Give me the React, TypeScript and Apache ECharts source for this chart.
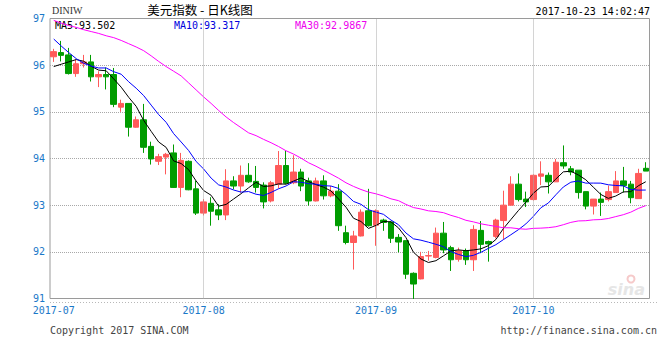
import React, { useEffect, useRef } from "react";
import * as echarts from "echarts";

// trading days shown (July 4 holiday absent)
const julDays = [3, 5, 6, 7, 10, 11, 12, 13, 14, 17, 18, 19, 20, 21, 24, 25, 26, 27, 28, 31];
const augDays = [1, 2, 3, 4, 7, 8, 9, 10, 11, 14, 15, 16, 17, 18, 21, 22, 23, 24, 25, 28, 29, 30, 31];
const sepDays = [1, 4, 5, 6, 7, 8, 11, 12, 13, 14, 15, 18, 19, 20, 21, 22, 25, 26, 27, 28, 29];
const octDays = [2, 3, 4, 5, 6, 9, 10, 11, 12, 13, 16, 17, 18, 19, 20, 23];

const opens = [
  96.18, 96.27, 96.22, 95.82, 96.03, 96.07, 95.75, 95.8, 95.8, 95.1,
  95.18, 94.67, 94.83, 94.26, 93.94, 94.03, 94.12, 93.38, 93.94, 93.35,
  92.83, 93.04, 92.9, 92.79, 93.52, 93.41, 93.64, 93.51, 93.43, 93.09,
  93.45, 93.85, 93.48, 93.71, 93.52, 93.09, 93.52, 93.2, 93.3, 92.41,
  92.2, 92.34, 92.88, 92.57, 92.68, 92.64, 92.31, 92.24, 91.54, 91.42,
  91.91, 91.88, 92.4, 92.09, 91.84, 92.02, 91.83, 92.46, 92.22, 92.33,
  92.67, 93.0, 93.45, 93.13, 93.12, 93.62, 93.64, 93.5, 93.91, 93.78,
  93.75, 93.29, 92.98, 93.13, 93.12, 93.27, 93.52, 93.45, 93.14, 93.79,
];
const closes = [
  96.29, 96.21, 95.82, 96.03, 96.07, 95.75, 95.8, 95.75, 95.16, 95.18,
  94.67, 94.83, 94.24, 93.99, 94.04, 94.09, 93.38, 93.96, 93.33, 92.83,
  93.07, 92.87, 92.79, 93.52, 93.41, 93.64, 93.5, 93.38, 93.07, 93.48,
  93.85, 93.47, 93.71, 93.41, 93.09, 93.52, 93.2, 93.3, 92.56, 92.2,
  92.34, 92.85, 92.56, 92.88, 92.63, 92.29, 92.21, 91.52, 91.31, 91.9,
  91.92, 92.4, 92.04, 91.83, 92.02, 91.83, 92.48, 92.16, 92.17, 92.68,
  93.0, 93.45, 93.12, 93.07, 93.64, 93.67, 93.5, 93.92, 93.84, 93.71,
  93.27, 92.98, 93.13, 93.06, 93.29, 93.52, 93.42, 93.16, 93.68, 93.73,
];
const lows = [
  96.07, 96.08, 95.8, 95.75, 95.95, 95.65, 95.53, 95.48, 95.1, 95.0,
  94.47, 94.66, 94.12, 93.87, 93.86, 93.66, 93.37, 93.17, 93.32, 92.79,
  92.78, 92.56, 92.68, 92.68, 93.34, 93.27, 93.48, 93.27, 92.93, 93.06,
  93.36, 93.45, 93.45, 93.3, 92.99, 93.08, 93.12, 93.17, 92.45, 92.16,
  91.62, 92.33, 92.54, 92.13, 92.45, 92.19, 91.99, 91.42, 90.99, 91.41,
  91.81, 91.86, 91.97, 91.59, 91.79, 91.72, 91.59, 91.97, 91.79, 92.29,
  92.27, 93.0, 93.08, 92.96, 93.1, 93.43, 93.25, 93.5, 93.78, 93.64,
  93.14, 92.91, 92.8, 92.77, 93.08, 93.27, 93.27, 93.04, 93.14, 93.73,
];
const highs = [
  96.35, 96.52, 96.37, 96.12, 96.22, 96.22, 95.87, 95.95, 95.94, 95.26,
  95.18, 94.9, 95.17, 94.36, 94.1, 94.12, 94.3, 94.12, 93.96, 93.52,
  93.13, 93.17, 93.02, 93.77, 93.62, 93.85, 93.9, 93.84, 93.49, 93.52,
  94.16, 94.16, 94.07, 93.78, 93.59, 93.59, 93.64, 93.41, 93.45, 92.56,
  92.45, 92.91, 93.35, 92.91, 92.71, 92.66, 92.38, 92.24, 91.56, 92.0,
  92.02, 92.52, 92.64, 92.13, 92.09, 92.07, 92.57, 92.66, 92.24, 92.71,
  93.31, 93.62, 93.68, 93.29, 93.66, 93.94, 93.7, 93.99, 94.28, 93.84,
  93.75, 93.29, 93.13, 93.27, 93.42, 93.73, 93.82, 93.52, 93.78, 93.92,
];

// moving-average values at the left edge (they depend on earlier sessions)
const ma5Head = [95.97, 96.02, 96.07, 96.12];
const ma10Head = [96.56, 96.41, 96.27, 96.14, 96.04, 95.98, 95.94, 95.94, 95.86];
const ma30Head = [
  96.96, 96.9, 96.85, 96.81, 96.76, 96.72, 96.68, 96.63, 96.59, 96.53,
  96.46, 96.39, 96.31, 96.2, 96.08, 95.97, 95.87, 95.77, 95.62, 95.47,
  95.32, 95.18, 95.03, 94.89, 94.77, 94.66, 94.55, 94.49, 94.41,
];
const maLegend = ["MA5:93.502", "MA10:93.317", "MA30:92.9867"];
const yTicks = [91, 92, 93, 94, 95, 96, 97];

const pad = (n: number) => (n < 10 ? "0" + n : "" + n);
const dates: string[] = [
  ...julDays.map((d) => "2017-07-" + pad(d)),
  ...augDays.map((d) => "2017-08-" + pad(d)),
  ...sepDays.map((d) => "2017-09-" + pad(d)),
  ...octDays.map((d) => "2017-10-" + pad(d)),
];
const monthStarts = dates
  .map((d, i) => (i === 0 || d.slice(0, 7) !== dates[i - 1].slice(0, 7) ? i : -1))
  .filter((i) => i >= 0);

const candles = dates.map((_, i) => [opens[i], closes[i], lows[i], highs[i]]);

function movingAverage(n: number, head: number[]) {
  return closes.map((_, i) => {
    if (i < n - 1) return head[i];
    let s = 0;
    for (let k = i - n + 1; k <= i; k++) s += closes[k];
    return +(s / n).toFixed(3);
  });
}

const MONO = "'DejaVu Sans Mono', monospace";
const BLUE_TXT = "#1a78c8";

export default function App() {
  const ref = useRef<HTMLDivElement>(null);
  useEffect(() => {
    if (!ref.current) return;
    const chart = echarts.init(ref.current, undefined, { renderer: "svg" });
    const option: any = {
      animation: false,
      grid: {
        left: 50,
        right: 10.5,
        top: 18.5,
        bottom: 61.5,
        show: true,
        borderColor: "#9a9a9a",
        borderWidth: 1,
        backgroundColor: "transparent",
      },
      xAxis: {
        type: "category",
        data: dates,
        boundaryGap: true,
        axisLine: { show: false },
        axisTick: { show: false },
        splitLine: { show: false },
        axisLabel: {
          interval: (i: number) => monthStarts.includes(i),
          formatter: (v: string) => v.slice(0, 7),
          color: BLUE_TXT,
          fontFamily: MONO,
          fontSize: 10,
          margin: 7,
        },
      },
      yAxis: {
        type: "value",
        min: yTicks[0],
        max: yTicks[yTicks.length - 1],
        interval: 1,
        axisLine: { show: false },
        axisTick: { show: false },
        axisLabel: { color: BLUE_TXT, fontFamily: MONO, fontSize: 10, margin: 5 },
        splitLine: {
          show: true,
          showMinLine: false,
          showMaxLine: false,
          lineStyle: { type: "dotted", color: "#a8a8a8", width: 1 },
        },
      },
      series: [
        {
          type: "candlestick",
          data: candles,
          barWidth: 6,
          itemStyle: {
            color: "#ff5a5a",
            color0: "#009c00",
            borderColor: "#ff5a5a",
            borderColor0: "#009c00",
            borderWidth: 1,
          },
          markLine: {
            silent: true,
            symbol: ["none", "none"],
            label: { show: false },
            lineStyle: { type: "dotted", color: "#a8a8a8", width: 1 },
            data: monthStarts.slice(1).map((i) => ({ xAxis: dates[i] })),
          },
        },
        {
          type: "line",
          data: movingAverage(5, ma5Head),
          showSymbol: false,
          lineStyle: { color: "#000000", width: 1 },
          z: 3,
        },
        {
          type: "line",
          data: movingAverage(10, ma10Head),
          showSymbol: false,
          lineStyle: { color: "#0000ff", width: 1 },
          z: 3,
        },
        {
          type: "line",
          data: movingAverage(30, ma30Head),
          showSymbol: false,
          lineStyle: { color: "#ff00ff", width: 1 },
          z: 3,
        },
      ],
      graphic: [
        {
          type: "text",
          x: 52,
          y: 10,
          style: { text: "DINIW", fill: "#333", font: "10px 'Liberation Serif', serif", textVerticalAlign: "middle" },
        },
        {
          type: "text",
          x: 200,
          y: 9.5,
          style: {
            text: "美元指数 - 日K线图",
            fill: "#000",
            font: "12.5px 'Noto Sans CJK SC', sans-serif",
            textAlign: "center",
            textVerticalAlign: "middle",
          },
        },
        {
          type: "text",
          x: 650,
          y: 11,
          style: { text: "2017-10-23 14:02:47", fill: "#000", font: "10px " + MONO, textAlign: "right", textVerticalAlign: "middle" },
        },
        {
          type: "text",
          x: 55,
          y: 25,
          style: { text: maLegend[0], fill: "#000", font: "10px " + MONO, textVerticalAlign: "middle" },
        },
        {
          type: "text",
          x: 174,
          y: 25,
          style: { text: maLegend[1], fill: "#0000dd", font: "10px " + MONO, textVerticalAlign: "middle" },
        },
        {
          type: "text",
          x: 295,
          y: 25,
          style: { text: maLegend[2], fill: "#ee00ee", font: "10px " + MONO, textVerticalAlign: "middle" },
        },
        {
          type: "line",
          shape: { x1: 50, y1: 302.5, x2: 657, y2: 302.5 },
          style: { stroke: "#b8b8b8", lineWidth: 1, lineDash: [1, 2] },
        },
        {
          type: "text",
          x: 50,
          y: 330,
          style: { text: "Copyright 2017 SINA.COM", fill: "#444", font: "10px " + MONO, textVerticalAlign: "middle" },
        },
        {
          type: "text",
          x: 657,
          y: 330,
          style: { text: "http://finance.sina.com.cn", fill: "#444", font: "10px " + MONO, textAlign: "right", textVerticalAlign: "middle" },
        },
        {
          type: "text",
          x: 645,
          y: 289,
          style: {
            text: "sina",
            fill: "#e6e6e6",
            font: "italic bold 16px 'DejaVu Sans', sans-serif",
            textAlign: "right",
            textVerticalAlign: "middle",
          },
        },
        {
          type: "circle",
          shape: { cx: 631, cy: 279, r: 3.5 },
          style: { fill: "none", stroke: "#f6caca", lineWidth: 2 },
        },
      ],
    };
    chart.setOption(option);
    return () => chart.dispose();
  }, []);
  return (
    <div
      ref={ref}
      style={{ position: "fixed", left: 0, top: 0, width: 660, height: 360, background: "#fff" }}
    />
  );
}
